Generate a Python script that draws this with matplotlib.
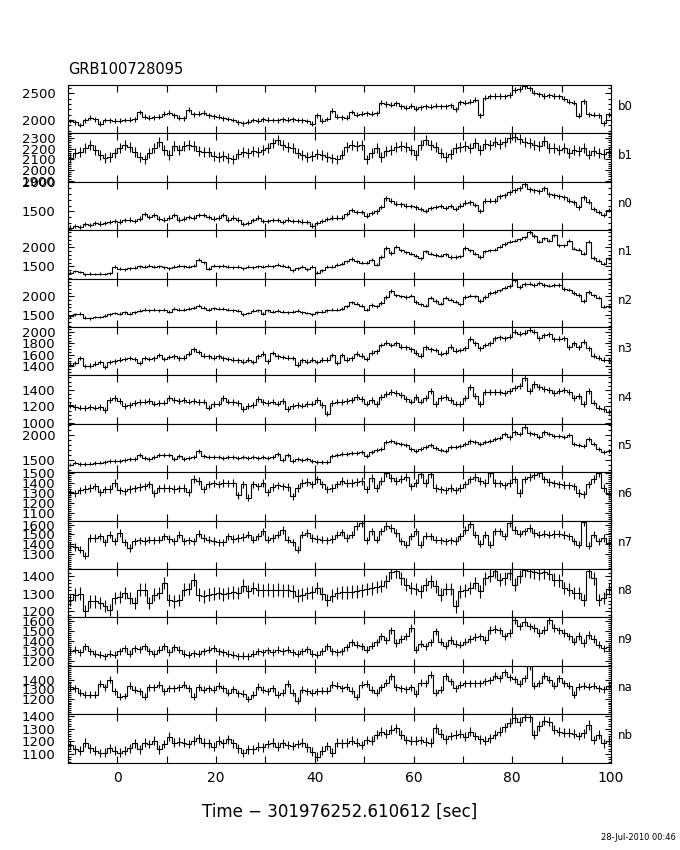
import numpy as np
import matplotlib
matplotlib.use("Agg")
import matplotlib.pyplot as plt
from matplotlib.ticker import MultipleLocator, FixedLocator, NullFormatter, FuncFormatter

plt.rcParams['font.family'] = ['DejaVu Sans']

# 1 s bins from -10 to 100 s (relative to trigger)
bin_edges = np.arange(-10, 101)

detectors = ['b0', 'b1', 'n0', 'n1', 'n2', 'n3', 'n4', 'n5',
             'n6', 'n7', 'n8', 'n9', 'na', 'nb']

# counts per bin
b0 = [1983, 1960, 1905, 1995, 2040, 2010, 1935, 2000, 1995, 1985,
      1990, 2000, 2005, 2015, 2150, 2060, 2040, 2050, 2060, 2120,
      2140, 2090, 2040, 2030, 2190, 2110, 2120, 2140, 2090, 2070,
      2060, 2030, 2020, 2000, 1960, 1940, 1970, 2000, 1990, 2010,
      2005, 2000, 1995, 2010, 2005, 2010, 2000, 1995, 1980, 1935,
      2090, 1990, 2020, 2175, 2060, 2050, 2040, 2150, 2100, 2120,
      2125, 2120, 2130, 2320, 2300, 2290, 2310, 2260, 2230, 2270,
      2210, 2240, 2260, 2250, 2270, 2260, 2255, 2280, 2200, 2330,
      2320, 2340, 2380, 2090, 2420, 2440, 2450, 2450, 2440, 2470,
      2560, 2580, 2630, 2590, 2510, 2480, 2450, 2460, 2450, 2440,
      2400, 2340, 2320, 2080, 2350, 2110, 2100, 2090, 1940, 2110]
b1 = [2116, 2161, 2171, 2207, 2232, 2192, 2140, 2116, 2122, 2161,
      2207, 2238, 2213, 2171, 2122, 2100, 2161, 2207, 2268, 2192,
      2140, 2222, 2192, 2222, 2238, 2222, 2177, 2171, 2171, 2131,
      2122, 2131, 2116, 2100, 2152, 2171, 2161, 2177, 2171, 2192,
      2207, 2253, 2283, 2238, 2213, 2207, 2161, 2140, 2122, 2131,
      2152, 2140, 2122, 2110, 2100, 2146, 2213, 2238, 2222, 2232,
      2100, 2161, 2207, 2122, 2177, 2192, 2213, 2222, 2213, 2192,
      2140, 2238, 2283, 2238, 2213, 2161, 2122, 2152, 2207, 2213,
      2222, 2207, 2253, 2192, 2244, 2238, 2262, 2244, 2268, 2305,
      2314, 2293, 2268, 2253, 2238, 2222, 2274, 2207, 2207, 2192,
      2207, 2161, 2192, 2183, 2207, 2146, 2177, 2161, 2152, 2171]
n0 = [1226, 1248, 1237, 1282, 1265, 1305, 1294, 1305, 1317, 1334,
      1328, 1351, 1362, 1339, 1379, 1453, 1408, 1436, 1379, 1362,
      1396, 1442, 1362, 1379, 1408, 1396, 1442, 1436, 1408, 1379,
      1396, 1442, 1362, 1396, 1362, 1282, 1305, 1351, 1396, 1339,
      1339, 1351, 1351, 1322, 1362, 1339, 1339, 1328, 1317, 1260,
      1305, 1339, 1373, 1396, 1396, 1396, 1453, 1521, 1493, 1487,
      1430, 1476, 1499, 1578, 1721, 1681, 1635, 1624, 1601, 1590,
      1567, 1544, 1510, 1556, 1578, 1590, 1556, 1590, 1544, 1601,
      1647, 1658, 1612, 1510, 1681, 1681, 1681, 1760, 1777, 1829,
      1863, 1891, 1965, 1874, 1863, 1846, 1891, 1794, 1777, 1760,
      1738, 1681, 1658, 1567, 1738, 1669, 1544, 1493, 1436, 1521]
n1 = [1332, 1375, 1349, 1289, 1306, 1297, 1306, 1297, 1315, 1487,
      1435, 1418, 1452, 1461, 1504, 1487, 1521, 1487, 1504, 1478,
      1452, 1487, 1521, 1504, 1487, 1521, 1676, 1607, 1435, 1521,
      1504, 1521, 1487, 1470, 1487, 1452, 1487, 1470, 1504, 1487,
      1521, 1504, 1538, 1521, 1487, 1401, 1452, 1487, 1418, 1487,
      1332, 1401, 1487, 1487, 1538, 1573, 1633, 1693, 1633, 1590,
      1590, 1676, 1547, 1745, 1977, 1848, 2020, 1917, 1865, 1831,
      1779, 1710, 1891, 1831, 1796, 1779, 1813, 1745, 1745, 1762,
      1977, 1917, 1831, 1745, 1891, 1917, 1934, 2020, 2089, 2149,
      2175, 2209, 2261, 2398, 2295, 2149, 2235, 2175, 2312, 2054,
      2054, 2175, 1968, 1934, 1831, 2149, 1719, 1641, 1573, 1710]
n2 = [1456, 1510, 1528, 1419, 1401, 1437, 1437, 1474, 1510, 1546,
      1528, 1565, 1528, 1565, 1601, 1637, 1619, 1637, 1619, 1637,
      1583, 1655, 1637, 1637, 1655, 1692, 1746, 1692, 1637, 1673,
      1664, 1655, 1637, 1619, 1601, 1510, 1546, 1601, 1619, 1528,
      1619, 1583, 1601, 1583, 1565, 1583, 1601, 1565, 1546, 1510,
      1565, 1583, 1619, 1637, 1637, 1655, 1728, 1837, 1801, 1746,
      1637, 1764, 1728, 1819, 1982, 2146, 2028, 2000, 1982, 2019,
      1846, 1782, 1746, 1964, 1873, 1801, 1964, 1910, 1855, 1782,
      1982, 2019, 2000, 1873, 1982, 2091, 2118, 2164, 2236, 2273,
      2436, 2255, 2327, 2345, 2309, 2364, 2309, 2291, 2309, 2309,
      2200, 2182, 2091, 2037, 1873, 2118, 2028, 1964, 1710, 1728]
n3 = [1430, 1458, 1544, 1401, 1413, 1447, 1470, 1390, 1470, 1487,
      1516, 1527, 1544, 1527, 1458, 1544, 1527, 1538, 1601, 1527,
      1561, 1573, 1538, 1550, 1619, 1699, 1653, 1584, 1573, 1550,
      1573, 1538, 1527, 1516, 1504, 1481, 1516, 1470, 1573, 1619,
      1487, 1630, 1573, 1561, 1550, 1544, 1430, 1504, 1481, 1516,
      1470, 1516, 1516, 1601, 1458, 1596, 1516, 1538, 1619, 1584,
      1527, 1641, 1659, 1773, 1813, 1773, 1802, 1744, 1733, 1699,
      1641, 1584, 1733, 1699, 1687, 1619, 1641, 1744, 1676, 1687,
      1716, 1882, 1802, 1716, 1773, 1802, 1887, 1904, 1893, 1916,
      2002, 1973, 1985, 2042, 2002, 1887, 1945, 1962, 1870, 1882,
      1887, 1733, 1802, 1733, 1830, 1716, 1584, 1550, 1516, 1504]
n4 = [1219, 1195, 1186, 1178, 1195, 1186, 1195, 1154, 1275, 1307,
      1267, 1207, 1219, 1243, 1251, 1259, 1267, 1235, 1243, 1247,
      1307, 1283, 1267, 1275, 1259, 1267, 1251, 1259, 1186, 1227,
      1235, 1299, 1259, 1251, 1243, 1166, 1203, 1219, 1287, 1251,
      1243, 1259, 1235, 1267, 1166, 1203, 1219, 1211, 1227, 1235,
      1275, 1219, 1114, 1243, 1259, 1251, 1267, 1275, 1315, 1291,
      1235, 1275, 1227, 1315, 1347, 1379, 1363, 1339, 1287, 1259,
      1315, 1259, 1307, 1387, 1227, 1299, 1315, 1275, 1235, 1227,
      1307, 1435, 1327, 1227, 1379, 1371, 1379, 1371, 1363, 1387,
      1419, 1447, 1547, 1387, 1467, 1435, 1407, 1395, 1367, 1387,
      1395, 1379, 1307, 1327, 1227, 1387, 1247, 1186, 1166, 1138]
n5 = [1402, 1442, 1416, 1416, 1422, 1429, 1442, 1456, 1469, 1469,
      1482, 1495, 1509, 1509, 1601, 1535, 1515, 1548, 1588, 1601,
      1588, 1515, 1582, 1515, 1535, 1548, 1668, 1582, 1548, 1562,
      1548, 1535, 1548, 1562, 1535, 1548, 1535, 1548, 1535, 1548,
      1535, 1562, 1615, 1495, 1601, 1482, 1515, 1495, 1509, 1469,
      1456, 1462, 1449, 1582, 1601, 1615, 1615, 1641, 1628, 1648,
      1582, 1648, 1694, 1714, 1847, 1880, 1827, 1814, 1800, 1714,
      1668, 1714, 1761, 1800, 1734, 1694, 1681, 1747, 1761, 1780,
      1814, 1867, 1847, 1814, 1847, 1880, 1913, 1933, 2012, 1946,
      2046, 2012, 2158, 2026, 2012, 1959, 2046, 2012, 1979, 1973,
      1959, 1999, 1814, 1800, 1780, 1913, 1814, 1714, 1648, 1668]
n6 = [1308, 1295, 1328, 1341, 1351, 1368, 1308, 1335, 1341, 1401,
      1328, 1315, 1341, 1348, 1361, 1368, 1385, 1295, 1348, 1351,
      1348, 1341, 1348, 1351, 1308, 1442, 1418, 1335, 1385, 1395,
      1385, 1401, 1395, 1401, 1275, 1385, 1251, 1385, 1368, 1401,
      1308, 1361, 1375, 1368, 1361, 1268, 1351, 1401, 1408, 1385,
      1435, 1385, 1335, 1351, 1385, 1418, 1401, 1401, 1408, 1418,
      1335, 1452, 1351, 1418, 1502, 1452, 1418, 1442, 1462, 1368,
      1401, 1485, 1401, 1485, 1351, 1335, 1328, 1351, 1328, 1351,
      1385, 1435, 1462, 1418, 1401, 1495, 1401, 1395, 1375, 1401,
      1435, 1301, 1435, 1462, 1475, 1495, 1435, 1408, 1395, 1385,
      1381, 1375, 1368, 1301, 1285, 1385, 1442, 1495, 1351, 1285]
n7 = [1386, 1372, 1345, 1283, 1464, 1464, 1481, 1420, 1498, 1430,
      1515, 1420, 1362, 1430, 1440, 1433, 1447, 1440, 1447, 1481,
      1454, 1430, 1498, 1430, 1440, 1430, 1508, 1464, 1447, 1433,
      1420, 1420, 1481, 1454, 1464, 1474, 1498, 1447, 1481, 1532,
      1447, 1464, 1498, 1543, 1447, 1420, 1345, 1498, 1515, 1464,
      1454, 1447, 1440, 1454, 1498, 1522, 1464, 1498, 1590, 1618,
      1440, 1532, 1447, 1532, 1590, 1566, 1515, 1430, 1396, 1481,
      1532, 1396, 1488, 1481, 1447, 1440, 1430, 1440, 1433, 1481,
      1543, 1611, 1498, 1406, 1498, 1396, 1532, 1532, 1481, 1618,
      1549, 1508, 1532, 1566, 1515, 1498, 1508, 1498, 1502, 1508,
      1495, 1481, 1430, 1396, 1624, 1386, 1498, 1430, 1464, 1413]
n8 = [1266, 1295, 1301, 1199, 1257, 1257, 1247, 1232, 1209, 1276,
      1282, 1304, 1276, 1247, 1324, 1324, 1247, 1295, 1304, 1362,
      1266, 1257, 1266, 1324, 1327, 1381, 1295, 1285, 1295, 1301,
      1304, 1297, 1304, 1308, 1304, 1346, 1314, 1333, 1324, 1320,
      1324, 1320, 1324, 1320, 1320, 1314, 1289, 1295, 1304, 1308,
      1333, 1301, 1266, 1289, 1304, 1308, 1308, 1312, 1314, 1320,
      1327, 1331, 1339, 1345, 1371, 1423, 1429, 1390, 1352, 1333,
      1327, 1314, 1352, 1371, 1343, 1295, 1327, 1327, 1228, 1314,
      1320, 1333, 1362, 1314, 1390, 1404, 1429, 1381, 1390, 1419,
      1352, 1400, 1434, 1429, 1423, 1419, 1423, 1415, 1381, 1377,
      1333, 1324, 1304, 1304, 1266, 1429, 1390, 1266, 1276, 1327]
n9 = [1294, 1311, 1284, 1345, 1294, 1270, 1260, 1243, 1270, 1260,
      1294, 1328, 1270, 1328, 1318, 1345, 1294, 1270, 1311, 1345,
      1284, 1338, 1311, 1270, 1260, 1277, 1270, 1294, 1311, 1328,
      1294, 1284, 1270, 1260, 1243, 1250, 1243, 1270, 1294, 1284,
      1304, 1284, 1311, 1294, 1311, 1284, 1270, 1294, 1318, 1270,
      1260, 1294, 1345, 1294, 1284, 1294, 1338, 1385, 1362, 1345,
      1311, 1351, 1385, 1446, 1406, 1507, 1379, 1419, 1446, 1531,
      1311, 1372, 1345, 1385, 1497, 1395, 1351, 1412, 1372, 1362,
      1395, 1419, 1440, 1446, 1412, 1514, 1521, 1507, 1446, 1480,
      1616, 1548, 1589, 1548, 1531, 1480, 1514, 1616, 1531, 1507,
      1480, 1446, 1395, 1453, 1379, 1463, 1419, 1362, 1328, 1338]
na = [1321, 1311, 1265, 1241, 1241, 1241, 1356, 1321, 1399, 1276,
      1223, 1230, 1335, 1293, 1276, 1223, 1321, 1321, 1346, 1276,
      1311, 1311, 1321, 1346, 1311, 1223, 1321, 1293, 1311, 1293,
      1335, 1311, 1265, 1300, 1258, 1251, 1195, 1241, 1328, 1293,
      1276, 1311, 1241, 1265, 1356, 1265, 1181, 1293, 1276, 1265,
      1276, 1286, 1286, 1346, 1335, 1311, 1328, 1286, 1216, 1346,
      1356, 1293, 1265, 1321, 1370, 1434, 1321, 1311, 1300, 1321,
      1251, 1370, 1363, 1451, 1265, 1293, 1434, 1381, 1311, 1346,
      1363, 1363, 1363, 1363, 1381, 1392, 1441, 1416, 1476, 1427,
      1406, 1356, 1416, 1539, 1335, 1363, 1441, 1399, 1335, 1416,
      1363, 1335, 1241, 1328, 1335, 1328, 1335, 1311, 1300, 1335]
nb = [1171, 1137, 1127, 1190, 1145, 1127, 1106, 1111, 1145, 1127,
      1111, 1127, 1145, 1185, 1137, 1190, 1179, 1206, 1137, 1179,
      1237, 1190, 1198, 1190, 1179, 1206, 1224, 1190, 1185, 1158,
      1206, 1185, 1216, 1185, 1145, 1106, 1137, 1137, 1158, 1153,
      1179, 1190, 1158, 1185, 1171, 1164, 1179, 1190, 1153, 1119,
      1079, 1127, 1164, 1111, 1190, 1185, 1190, 1206, 1190, 1171,
      1211, 1206, 1250, 1277, 1258, 1290, 1303, 1250, 1211, 1206,
      1206, 1211, 1198, 1190, 1303, 1258, 1216, 1242, 1250, 1258,
      1237, 1277, 1242, 1216, 1206, 1224, 1250, 1277, 1311, 1348,
      1382, 1356, 1395, 1390, 1250, 1321, 1363, 1356, 1290, 1277,
      1269, 1269, 1258, 1242, 1263, 1329, 1211, 1250, 1185, 1206]

rates = [b0, b1, n0, n1, n2, n3, n4, n5, n6, n7, n8, n9, na, nb]

# axis setup per panel
y_limits = [(1750, 2655), (1890, 2345), (1180, 2005), (1177, 2450),
            (1165, 2481), (1241, 2087), (990, 1575), (1250, 2218),
            (1024, 1508), (1147, 1642), (1165, 1442), (1148, 1640),
            (1037, 1546), (1032, 1414)]
y_labelled = [[2000, 2500], [1900, 2000, 2100, 2200, 2300], [1500, 2000],
              [1500, 2000], [1500, 2000], [1400, 1600, 1800, 2000],
              [1000, 1200, 1400], [1500, 2000],
              [1100, 1200, 1300, 1400, 1500], [1300, 1400, 1500, 1600],
              [1200, 1300, 1400], [1200, 1300, 1400, 1500, 1600],
              [1200, 1300, 1400], [1100, 1200, 1300, 1400]]
y_minor = [100, 20, 100, 100, 100, 50, 50, 100, 20, 20, 20, 20, 20, 20]

W, H = 680, 850
fig = plt.figure(figsize=(W / 100, H / 100), dpi=100)
gs = fig.add_gridspec(len(detectors), 1, left=68 / W, right=611 / W,
                      top=1 - 85 / H, bottom=1 - 762.6 / H, hspace=0)

centers = bin_edges[:-1] + 0.5
axes = []
for i, det in enumerate(detectors):
    ax = fig.add_subplot(gs[i, 0])
    vals = np.array(rates[i], dtype=float)
    ax.stairs(vals, bin_edges, baseline=None, color='black', lw=0.8)
    ax.errorbar(centers, vals, yerr=np.sqrt(vals), fmt='none',
                ecolor='black', elinewidth=0.8, capsize=0)

    ax.set_xlim(-10, 100)
    ax.set_ylim(*y_limits[i])
    ax.xaxis.set_major_locator(MultipleLocator(10))
    ax.yaxis.set_major_locator(FixedLocator(y_labelled[i]))
    ax.yaxis.set_minor_locator(MultipleLocator(y_minor[i]))
    ax.tick_params(which='both', direction='in', top=True, right=True,
                   width=0.8, colors='black')
    ax.tick_params(which='major', axis='x', length=5)
    ax.tick_params(which='major', axis='y', length=4, pad=9, labelsize=9.5)
    ax.tick_params(which='minor', length=2)
    for sp in ax.spines.values():
        sp.set_linewidth(0.8)

    if i < len(detectors) - 1:
        ax.xaxis.set_major_formatter(NullFormatter())
    else:
        # ticks every 10 s, numbers only every 20 s
        ax.xaxis.set_major_formatter(
            FuncFormatter(lambda v, p: f'{int(v)}' if int(v) % 20 == 0 else ''))
        ax.tick_params(axis='x', labelsize=10, pad=6)

    ax.text(1.012, 0.55, det, transform=ax.transAxes, ha='left',
            va='center', fontsize=8.5)
    axes.append(ax)

fig.text(68 / W, 1 - 70 / H, 'GRB100728095', ha='left', va='center',
         fontsize=10.5)
fig.text(340 / W, 1 - 812 / H, 'Time \u2212 301976252.610612 [sec]',
         ha='center', va='center', fontsize=12)
fig.text(676 / W, 1 - 838 / H, '28-Jul-2010 00:46', ha='right',
         va='center', fontsize=6)

fig.savefig('out.png', dpi=100)
